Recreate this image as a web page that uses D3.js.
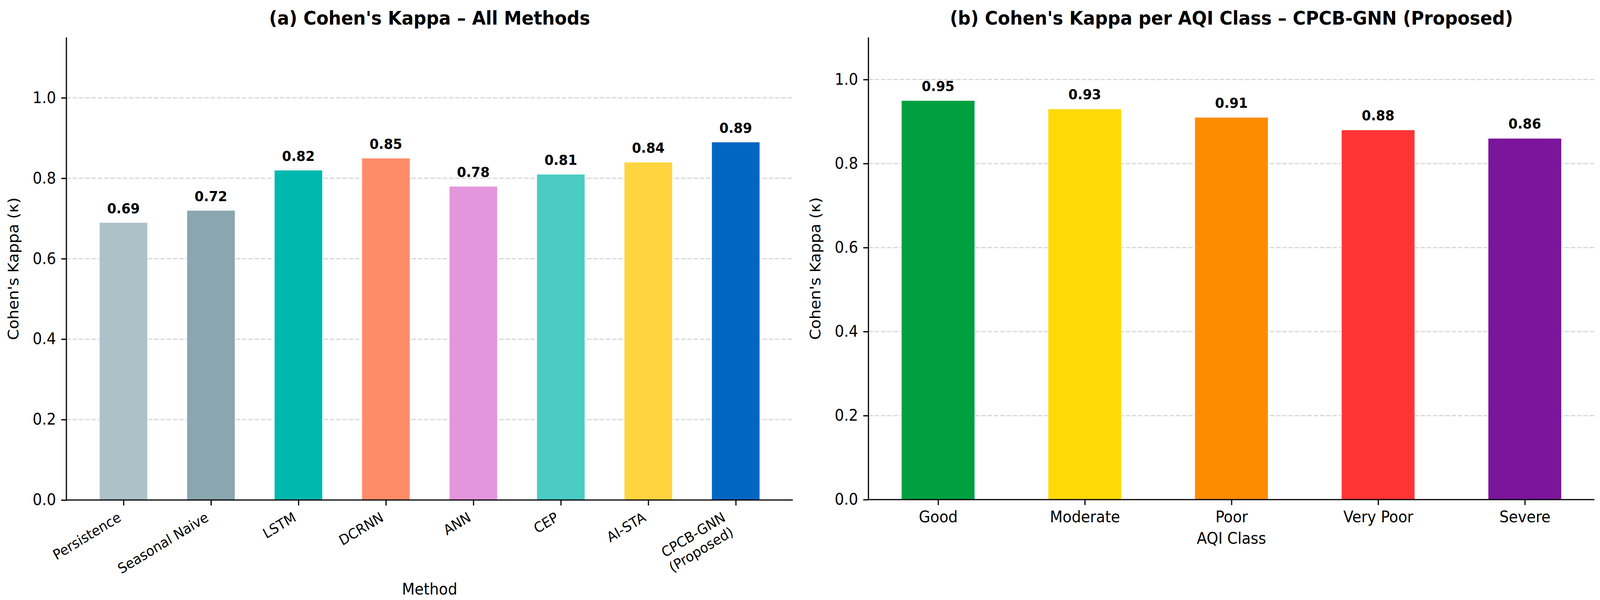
<!DOCTYPE html>
<html>
<head>
<meta charset="utf-8">
<script src="https://cdn.jsdelivr.net/npm/d3@7/dist/d3.min.js"></script>
<style>
  html, body { margin: 0; padding: 0; background: #ffffff; overflow: hidden; width: 100%; height: 100%; }
  svg { display: block; width: 100vw; height: 100vh; }
  text { font-family: "DejaVu Sans", sans-serif; fill: #000; }
</style>
</head>
<body>
<script>
// ---- data ----
const methods = ["Persistence", "Seasonal Naive", "LSTM", "DCRNN", "ANN", "CEP", "AI-STA", "CPCB-GNN\n(Proposed)"];
const kappaMethods = [0.69, 0.72, 0.82, 0.85, 0.78, 0.81, 0.84, 0.89];
const methodColors = ["#adc1c9", "#8aa6af", "#00b8ae", "#ff8c69", "#e496dc", "#4acbc4", "#ffd43f", "#0066c2"];

const aqiClasses = ["Good", "Moderate", "Poor", "Very Poor", "Severe"];
const kappaClasses = [0.95, 0.93, 0.91, 0.88, 0.86];
const classColors = ["#00a040", "#ffd905", "#ff8c00", "#ff3535", "#7b159b"];

const yTicks = [0.0, 0.2, 0.4, 0.6, 0.8, 1.0];

const W = 4337, H = 1536;
const svg = d3.select("body").append("svg")
  .attr("viewBox", `0 0 ${W} ${H}`)
  .attr("preserveAspectRatio", "none");
svg.append("rect").attr("width", W).attr("height", H).attr("fill", "#fff");

function panel(opts) {
  const { x0, x1, y0, y1, cats, vals, colors, yMax, barW, title, xlabel, rotate, tickFont, xlabelY } = opts;
  const n = cats.length;
  const pad = 0.05 * (n - 1 + barW);
  const x = d3.scaleLinear().domain([-barW / 2 - pad, n - 1 + barW / 2 + pad]).range([x0, x1]);
  const y = d3.scaleLinear().domain([0, yMax]).range([y1, y0]);
  const g = svg.append("g");

  // grid
  const grid = g.append("g");
  yTicks.filter(t => t > 0).forEach(t => {
    grid.append("line")
      .attr("x1", x0).attr("x2", x1).attr("y1", y(t)).attr("y2", y(t))
      .attr("stroke", "#d6d6d6").attr("stroke-width", 3)
      .attr("stroke-dasharray", "12,5");
  });

  // bars
  g.append("g").selectAll("rect").data(vals).join("rect")
    .attr("x", (d, i) => x(i - barW / 2))
    .attr("width", (d, i) => x(i + barW / 2) - x(i - barW / 2))
    .attr("y", d => y(d))
    .attr("height", d => y(0) - y(d))
    .attr("fill", (d, i) => colors[i])
    .attr("stroke", "#ffffff").attr("stroke-width", 1.2);

  // value labels
  g.append("g").selectAll("text").data(vals).join("text")
    .attr("x", (d, i) => x(i))
    .attr("y", d => y(d + 0.015) - 8.5)
    .attr("text-anchor", "middle")
    .attr("font-weight", "bold")
    .attr("font-size", 36)
    .text(d => d.toFixed(2));

  // y axis
  const yAxis = d3.axisLeft(y).tickValues(yTicks).tickFormat(d3.format(".1f")).tickSize(14).tickPadding(14);
  const ya = g.append("g").attr("transform", `translate(${x0},0)`).call(yAxis);
  ya.select(".domain").attr("stroke", "#000").attr("stroke-width", 3.2).attr("d", `M0,${y1}V${y0}`);
  ya.selectAll(".tick line").attr("stroke", "#000").attr("stroke-width", 3.2);
  ya.selectAll(".tick text").attr("font-size", 40).attr("font-family", "DejaVu Sans").attr("fill", "#000");

  // x axis
  const xAxis = d3.axisBottom(x).tickValues(d3.range(n)).tickFormat(i => cats[i]).tickSize(14).tickPadding(14);
  const xa = g.append("g").attr("transform", `translate(0,${y1})`).call(xAxis);
  xa.select(".domain").attr("stroke", "#000").attr("stroke-width", 3.2).attr("d", `M${x0},0H${x1}`);
  xa.selectAll(".tick line").attr("stroke", "#000").attr("stroke-width", 3.2);

  if (rotate) {
    xa.selectAll(".tick text").remove();
    const fs = tickFont;
    const asc = 0.76 * fs, desc = 0.24 * fs, lh = 1.2 * fs;
    const top = 28;
    xa.selectAll(".tick").each(function (i) {
      const lines = cats[i].split("\n");
      const blockBottom = (lines.length - 1) * lh + desc;
      const ax = -0.5 * blockBottom;
      const ay = top + 0.866 * asc;
      const tg = d3.select(this).append("g")
        .attr("transform", `translate(${ax},${ay}) rotate(-30)`);
      lines.forEach((ln, k) => {
        tg.append("text").attr("x", 0).attr("y", k * lh)
          .attr("text-anchor", "end").attr("font-size", fs)
          .attr("font-family", "DejaVu Sans").attr("fill", "#000")
          .text(ln);
      });
    });
  } else {
    xa.selectAll(".tick text").attr("font-size", tickFont).attr("font-family", "DejaVu Sans").attr("fill", "#000")
      .attr("dy", null).attr("y", 28 + 0.76 * tickFont);
  }

  // y label
  svg.append("text")
    .attr("transform", `translate(${x0 - 130},${(y0 + y1) / 2}) rotate(-90)`)
    .attr("text-anchor", "middle").attr("font-size", 40)
    .text("Cohen's Kappa (κ)");

  // x label
  svg.append("text")
    .attr("x", (x0 + x1) / 2).attr("y", xlabelY)
    .attr("text-anchor", "middle").attr("font-size", 40)
    .text(xlabel);

  // title
  svg.append("text")
    .attr("x", (x0 + x1) / 2).attr("y", 63)
    .attr("text-anchor", "middle").attr("font-size", 48).attr("font-weight", "bold")
    .text(title);
}

panel({
  x0: 180, x1: 2149, y0: 96, y1: 1280,
  cats: methods, vals: kappaMethods, colors: methodColors,
  yMax: 1.15, barW: 0.55,
  title: "(a) Cohen's Kappa – All Methods",
  xlabel: "Method", rotate: true, tickFont: 36, xlabelY: 1522
});

panel({
  x0: 2354, x1: 4322, y0: 96, y1: 1279,
  cats: aqiClasses, vals: kappaClasses, colors: classColors,
  yMax: 1.1, barW: 0.5,
  title: "(b) Cohen's Kappa per AQI Class – CPCB-GNN (Proposed)",
  xlabel: "AQI Class", rotate: false, tickFont: 40, xlabelY: 1392
});
</script>
</body>
</html>
